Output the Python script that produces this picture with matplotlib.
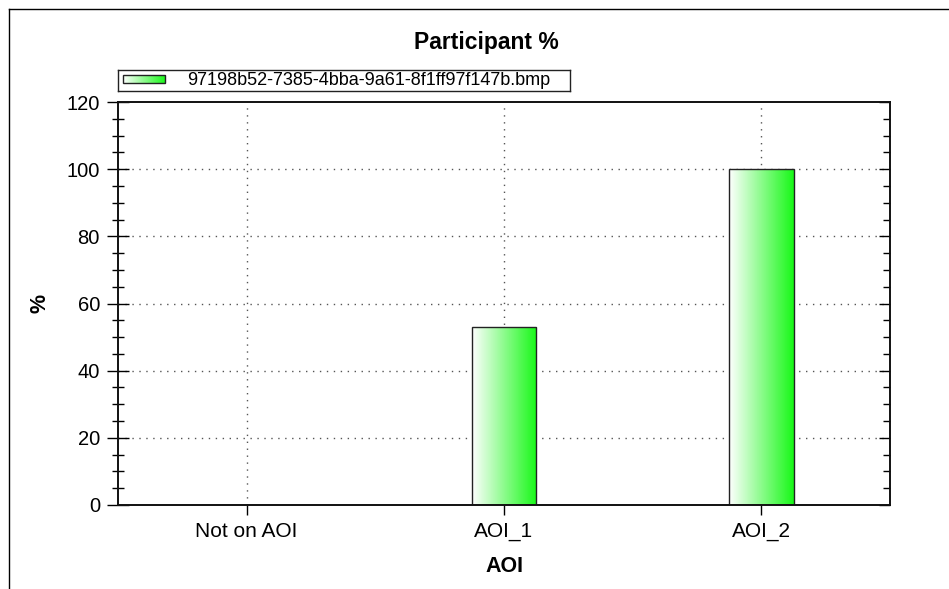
import matplotlib
matplotlib.use("Agg")
import matplotlib.pyplot as plt
import numpy as np
from matplotlib.lines import Line2D
from matplotlib.colors import LinearSegmentedColormap
from matplotlib.ticker import MultipleLocator
from matplotlib.patches import Rectangle

categories = ["Not on AOI", "AOI_1", "AOI_2"]
values = [0, 53, 100]
series_name = "97198b52-7385-4bba-9a61-8f1ff97f147b.bmp"

plt.rcParams['font.family'] = ['Liberation Sans', 'DejaVu Sans']

W, H = 949, 589
fig = plt.figure(figsize=(W / 100, H / 100), dpi=100)
ax = fig.add_axes([118 / W, 1 - 505 / H, (890 - 118) / W, (505 - 102) / H])

cmap = LinearSegmentedColormap.from_list("g", ["#ffffff", "#18f818"])
x = np.arange(len(categories))
bars = ax.bar(x, values, width=0.25, facecolor="none", edgecolor="#222222", linewidth=1, zorder=3)
grad = np.linspace(0, 1, 256).reshape(1, -1)
for b in bars:
    if b.get_height() <= 0:
        continue
    x0, w, h = b.get_x(), b.get_width(), b.get_height()
    im = ax.imshow(grad, cmap=cmap, extent=[x0, x0 + w, 0, h], aspect="auto", zorder=2, interpolation="bilinear")
    im.set_clip_path(b)

ax.set_xlim(-0.5, 2.5)
ax.set_ylim(0, 120)
ax.set_xticks(x)
ax.set_xticklabels(categories, fontsize=15)
ax.set_yticks([0, 20, 40, 60, 80, 100, 120])
ax.yaxis.set_minor_locator(MultipleLocator(5))
ax.tick_params(axis='y', which='major', direction='inout', length=16, width=1, labelsize=14.5, pad=5)
ax.tick_params(axis='y', which='minor', direction='inout', length=8, width=1)
ax.tick_params(axis='x', which='major', direction='out', length=7, width=1, pad=5)

# right axis ticks inside
ax2 = ax.twinx()
ax2.set_ylim(0, 120)
ax2.yaxis.set_major_locator(MultipleLocator(20))
ax2.yaxis.set_minor_locator(MultipleLocator(5))
ax2.tick_params(axis='y', which='major', direction='in', length=8, width=1, labelright=False)
ax2.tick_params(axis='y', which='minor', direction='in', length=5, width=1)

for yv in [20, 40, 60, 80, 100]:
    ax.axhline(yv, color="#555555", linestyle=(0, (1, 4)), linewidth=1, zorder=1)
for xv in x:
    ax.axvline(xv, color="#555555", linestyle=(0, (1, 4)), linewidth=1, zorder=1)

for a in (ax, ax2):
    for s in a.spines.values():
        s.set_linewidth(1.2)
        s.set_color("#111111")

ax.set_xlabel("AOI", fontsize=15.5, fontweight="bold")
ax.xaxis.set_label_coords(0.5, (505 - 556) / 403)
ax.set_ylabel("%", fontsize=15.5, fontweight="bold")
ax.yaxis.set_label_coords((50 - 118) / 772, 0.5)

fig.text(486 / W, 1 - 42 / H, "Participant %", fontsize=16.5, fontweight="bold", ha="center", va="center")

# legend box
lax = fig.add_axes([118 / W, 1 - 91 / H, (570 - 118) / W, 21 / H], zorder=5)
lax.set_xticks([]); lax.set_yticks([])
for s in lax.spines.values():
    s.set_color("#222222")
    s.set_linewidth(1)
lax.imshow(grad, cmap=cmap, aspect="auto", extent=[123, 165, 83, 75], interpolation="bilinear")
lax.add_patch(Rectangle((123, 75), 42, 8, facecolor="none", edgecolor="#222222", linewidth=1))
lax.set_xlim(118, 570)
lax.set_ylim(91, 70)
lax.text(187, 80.5, series_name, fontsize=13, ha="left", va="center")

# outer frame
fig.add_artist(Line2D([9 / W, 1], [1 - 9 / H, 1 - 9 / H], transform=fig.transFigure, color="black", linewidth=1))
fig.add_artist(Line2D([9 / W, 9 / W], [0, 1 - 9 / H], transform=fig.transFigure, color="black", linewidth=1))

fig.savefig("out.png", dpi=100)
